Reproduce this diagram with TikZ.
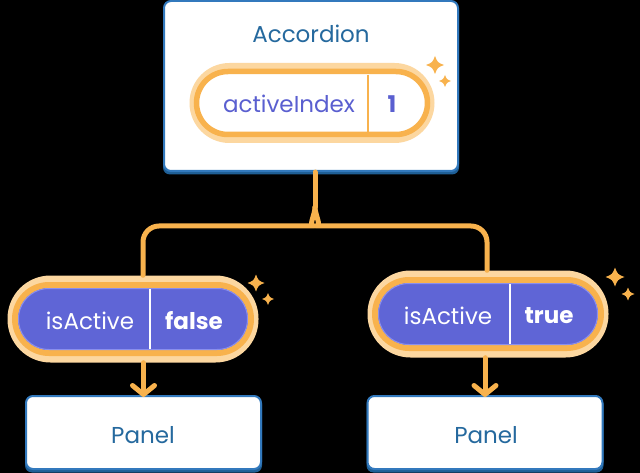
\documentclass[tikz,border=0pt]{standalone}
\usepackage{fontspec}
\setmainfont{Poppins}
\usetikzlibrary{arrows.meta}
\definecolor{bgc}{HTML}{000000}
\definecolor{boxline}{HTML}{3279BD}
\definecolor{boxshadow}{HTML}{1F5F96}
\definecolor{titlec}{HTML}{25699E}
\definecolor{purp}{HTML}{5F65D6}
\definecolor{purpedge}{HTML}{8A8FEE}
\definecolor{purptext}{HTML}{5A5FD0}
\definecolor{orng}{HTML}{F8B24D}
\definecolor{glowc}{HTML}{FCD7A0}
\tikzset{
  x=1pt, y=-1pt,
  compbox/.style={draw=boxline, line width=2pt, fill=white, rounded corners=7pt, inner sep=0pt},
  compshadow/.style={fill=boxshadow, rounded corners=7pt, inner sep=0pt},
  glow/.style={fill=glowc, inner sep=0pt},
  ringpill/.style={fill=white, draw=orng, line width=5.5pt, inner sep=0pt},
  proppill/.style={fill=purp, draw=purpedge, line width=1pt, inner sep=0pt},
  title/.style={text=titlec, font=\fontsize{23}{26}\selectfont, inner sep=0pt},
  keytext/.style={font=\fontsize{23}{26}\selectfont, inner sep=0pt},
  valtext/.style={font=\fontsize{23}{26}\selectfont\bfseries, inner sep=0pt},
  wire/.style={draw=orng, line width=5pt, line cap=round, line join=round},
  sparkle/.pic={\fill[orng] (0,1) .. controls (0.28,0.28) .. (1,0) .. controls (0.28,-0.28) .. (0,-1) .. controls (-0.28,-0.28) .. (-1,0) .. controls (-0.28,0.28) .. cycle;}
}
\begin{document}
\begin{tikzpicture}
\fill[bgc] (0,0) rectangle (640,473);
\useasboundingbox (0,0) rectangle (640,473);

% Accordion component
\node[compshadow, minimum width=296pt, minimum height=171pt] at (311,89) {};
\node[compbox, minimum width=294pt, minimum height=170pt] (acc) at (311,86) {};
\node[title] (acctitle) at (311,34) {Accordion};

% activeIndex state pill
\node[glow, minimum width=245pt, minimum height=80pt, rounded corners=40pt] (aiglow) at (312,103) {};
\node[ringpill, minimum width=231pt, minimum height=63pt, rounded corners=31.5pt] (ai) at (312,103) {};
\draw[orng, line width=1.5pt] (368,75) -- (368,132);
\node[keytext, text=purptext] (aikey) at (289,104) {activeIndex};
\node[valtext, text=purptext] (aival) at (392,104) {1};
\path (435,65) pic[scale=9] {sparkle};
\path (445,81) pic[scale=6] {sparkle};

% connectors from Accordion to the two props
\coordinate (split) at (315,207);
\coordinate (lturn) at (143,226);
\coordinate (rturn) at (487,226);
\node[glow, minimum width=251pt, minimum height=87pt, rounded corners=43pt] (lglow) at (133,319) {};
\node[glow, minimum width=241pt, minimum height=87pt, rounded corners=43pt] (rglow) at (488,314) {};
\draw[wire] (acc.south -| split) -- (split);
\draw[wire, rounded corners=16pt] (split) .. controls (315,215) and (308,226) .. (298,226) -- (lturn) -- (lglow.north -| lturn);
\draw[wire, rounded corners=16pt] (split) .. controls (315,215) and (322,226) .. (332,226) -- (rturn) -- (rglow.north -| rturn);

% left prop: isActive false
\node[draw=orng, line width=6pt, fill=purp, minimum width=236pt, minimum height=68pt, rounded corners=34pt, inner sep=0pt] (lring) at (133,319) {};
\node[proppill, minimum width=229pt, minimum height=61pt, rounded corners=30.5pt] (lp) at (133,319) {};
\draw[white, line width=1.2pt] (150,289) -- (150,349);
\node[keytext, text=white] (lkey) at (90,321) {isActive};
\node[valtext, text=white] (lval) at (194,321) {false};
\path (256,283) pic[scale=8.5] {sparkle};
\path (268,299) pic[scale=6] {sparkle};

% right prop: isActive true
\node[draw=orng, line width=6pt, fill=purp, minimum width=226pt, minimum height=68pt, rounded corners=34pt, inner sep=0pt] (rring) at (488,314) {};
\node[proppill, minimum width=219pt, minimum height=61pt, rounded corners=30.5pt] (rp) at (488,314) {};
\draw[white, line width=1.2pt] (510,284) -- (510,344);
\node[keytext, text=white] (rkey) at (448,316) {isActive};
\node[valtext, text=white] (rval) at (549,316) {true};
\path (615,277) pic[scale=9.5] {sparkle};
\path (628,294) pic[scale=6.5] {sparkle};

% Panel children
\node[compshadow, minimum width=237pt, minimum height=75pt] at (143.5,435) {};
\node[compbox, minimum width=235pt, minimum height=73pt] (lpanel) at (143.5,432.5) {};
\node[title] at (143,435) {Panel};
\node[compshadow, minimum width=237pt, minimum height=75pt] at (485,435) {};
\node[compbox, minimum width=235pt, minimum height=73pt] (rpanel) at (485,432.5) {};
\node[title] at (486,435) {Panel};

% arrows from props to panels
\draw[wire, -{Straight Barb[length=9pt, width=22pt, line width=5pt, round]}] (lglow.south -| lpanel) -- ([yshift=-2pt]lpanel.north);
\draw[wire, -{Straight Barb[length=9pt, width=22pt, line width=5pt, round]}] (rglow.south -| rpanel) -- ([yshift=-2pt]rpanel.north);
\end{tikzpicture}
\end{document}
